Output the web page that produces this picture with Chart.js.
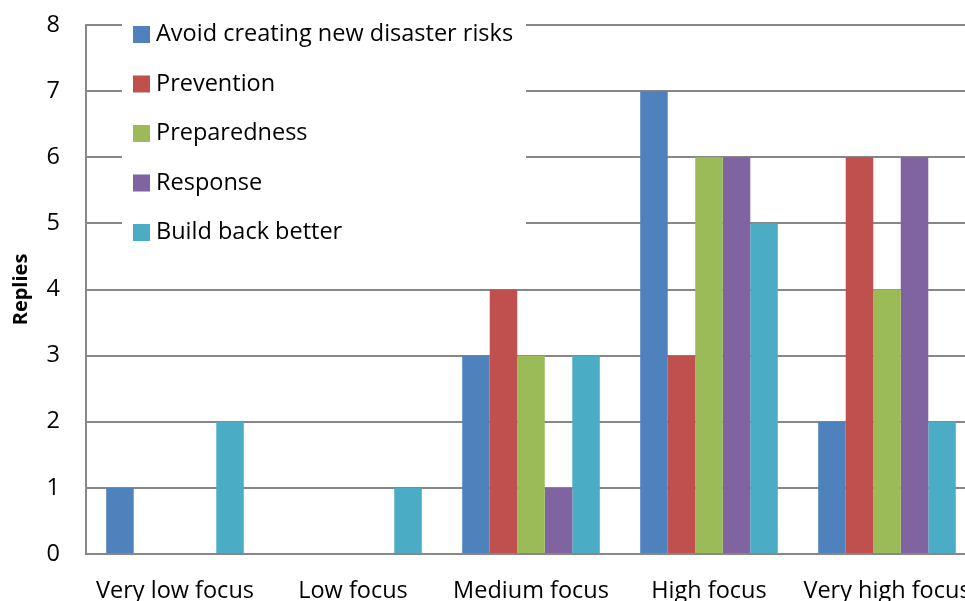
<!DOCTYPE html>
<html>
<head>
<meta charset="utf-8">
<script src="https://cdn.jsdelivr.net/npm/chart.js@4.4.1/dist/chart.umd.min.js"></script>
<style>
  html, body { margin: 0; padding: 0; overflow: hidden; background: #fff; }
  #wrap { position: relative; width: 992px; height: 622px; }
</style>
</head>
<body>
<div id="wrap"><canvas id="c" width="992" height="622"></canvas></div>
<script>
// Focus levels on the x axis
const categories = ['Very low focus', 'Low focus', 'Medium focus', 'High focus', 'Very high focus'];

// Number of replies for each priority, per focus level
const avoidRisks   = [1, 0, 3, 7, 2];
const prevention   = [0, 0, 4, 3, 6];
const preparedness = [0, 0, 3, 6, 4];
const response     = [0, 0, 1, 6, 6];
const buildBack    = [2, 1, 3, 5, 2];

const seriesNames = ['Avoid creating new disaster risks', 'Prevention', 'Preparedness', 'Response', 'Build back better'];
const seriesColors = ['#4F81BD', '#C0504D', '#9BBB59', '#8064A2', '#4BACC6'];
const yTicks = [0, 1, 2, 3, 4, 5, 6, 7, 8];

const FONT = '"Open Sans", Lato, sans-serif';
const GRID = '#878787';

// Legend drawn as a white panel inside the plot area
const boxLegend = {
  id: 'boxLegend',
  afterDraw(chart) {
    const ctx = chart.ctx;
    const x0 = 122, y0 = 10, w = 404, h = 246;
    ctx.save();
    ctx.fillStyle = '#ffffff';
    ctx.fillRect(x0, y0, w, h);
    ctx.font = '23.5px ' + FONT;
    ctx.textBaseline = 'middle';
    ctx.textAlign = 'left';
    chart.data.datasets.forEach((ds, i) => {
      const cy = 34.5 + i * 49.5;
      ctx.fillStyle = ds.backgroundColor;
      ctx.fillRect(133, cy - 8.5, 17, 17);
      ctx.fillStyle = '#000';
      ctx.fillText(ds.label, 156, cy);
    });
    ctx.restore();
  }
};

const series = [avoidRisks, prevention, preparedness, response, buildBack];

new Chart(document.getElementById('c'), {
  type: 'bar',
  data: {
    labels: categories,
    datasets: series.map((vals, i) => ({
      label: seriesNames[i],
      data: vals,
      backgroundColor: seriesColors[i],
      borderWidth: 0,
      categoryPercentage: 0.773,
      barPercentage: 1.0
    }))
  },
  options: {
    responsive: false,
    animation: false,
    events: [],
    layout: { autoPadding: false, padding: { top: 25, left: 0, right: 16, bottom: 0 } },
    plugins: { legend: { display: false }, tooltip: { enabled: false } },
    scales: {
      x: {
        grid: { display: false, drawTicks: false },
        border: { display: true, color: GRID, width: 2 },
        ticks: { color: '#000', font: { family: FONT, size: 23.5 }, padding: 23, maxRotation: 0, autoSkip: false },
        afterFit(axis) { axis.height = 622 - 554; axis.paddingLeft = 0; axis.paddingRight = 0; }
      },
      y: {
        min: 0, max: 8,
        afterBuildTicks(axis) { axis.ticks = yTicks.map(v => ({ value: v })); },
        grid: { color: GRID, lineWidth: 2, drawTicks: false },
        border: { display: true, color: GRID, width: 2 },
        ticks: { color: '#000', font: { family: FONT, size: 23.5 }, padding: 26 },
        title: { display: true, text: 'Replies', color: '#000', font: { family: FONT, size: 20, weight: 'bold' }, padding: { top: 9, bottom: 0 } },
        afterFit(axis) { axis.width = 86; axis.paddingTop = 0; axis.paddingBottom = 0; }
      }
    }
  },
  plugins: [boxLegend]
});
</script>
</body>
</html>
